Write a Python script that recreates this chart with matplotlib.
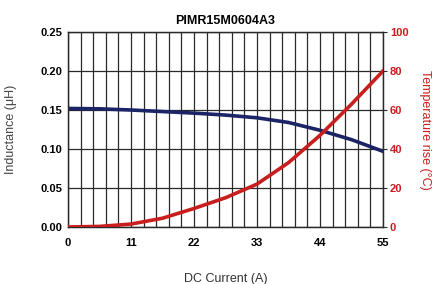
import numpy as np
import matplotlib.pyplot as plt

plt.rcParams['font.family'] = ['Liberation Sans', 'DejaVu Sans']

current = [0, 5.5, 11, 16.5, 22, 27.5, 33, 38.5, 44, 49.5, 55]
inductance = [0.152, 0.1515, 0.150, 0.148, 0.146, 0.1435, 0.140, 0.134, 0.124, 0.112, 0.097]
temp_rise = [0, 0.3, 1.5, 4.5, 9.5, 15, 22, 33, 47, 63, 80]

x_ticks = [0, 11, 22, 33, 44, 55]
y_ticks = [0.00, 0.05, 0.10, 0.15, 0.20, 0.25]
t_ticks = [0, 20, 40, 60, 80, 100]

navy = '#1b2466'
red = '#c81e1e'

fig = plt.figure(figsize=(4.36, 2.84), dpi=100)
ax = fig.add_axes([68 / 436, 1 - 227 / 284, 315 / 436, 195 / 284])
ax2 = ax.twinx()

ax.set_xlim(0, 55)
ax.set_ylim(0, 0.25)
ax2.set_ylim(0, 100)

for v in np.arange(0, 55.01, 2.2):
    ax.axvline(v, color='#2a2a2a', lw=0.9, zorder=1)
for v in y_ticks:
    ax.axhline(v, color='#2a2a2a', lw=0.9, zorder=1)

ax.plot(current, inductance, color=navy, lw=2.6, zorder=3)
ax2.plot(current, temp_rise, color=red, lw=2.6, zorder=3)

ax.set_xticks(x_ticks)
ax.set_xticklabels([str(v) for v in x_ticks], fontsize=8, fontweight='bold')
ax.set_yticks(y_ticks)
ax.set_yticklabels([f'{v:.2f}' for v in y_ticks], fontsize=8, fontweight='bold')
ax2.set_yticks(t_ticks)
ax2.set_yticklabels([str(v) for v in t_ticks], fontsize=8, fontweight='bold', color=red)

ax.tick_params(axis='x', length=0, pad=8)
ax.tick_params(axis='y', length=0, pad=4)
ax2.tick_params(axis='y', length=3, pad=2, color='#2a2a2a')

for a in (ax, ax2):
    for s in a.spines.values():
        s.set_color('#2a2a2a')
        s.set_linewidth(0.9)

ax.set_title('PIMR15M0604A3', fontsize=9, fontweight='bold', pad=6)
ax.set_xlabel('DC Current (A)', fontsize=9, color='#333333', labelpad=18)
ax.set_ylabel('Inductance (\u03bcH)', fontsize=9, color='#444444', labelpad=17)
ax2.set_ylabel('Temperature rise (\u00b0C)', fontsize=9, color=red, rotation=-90, labelpad=16)

fig.savefig('out.png', dpi=100)
